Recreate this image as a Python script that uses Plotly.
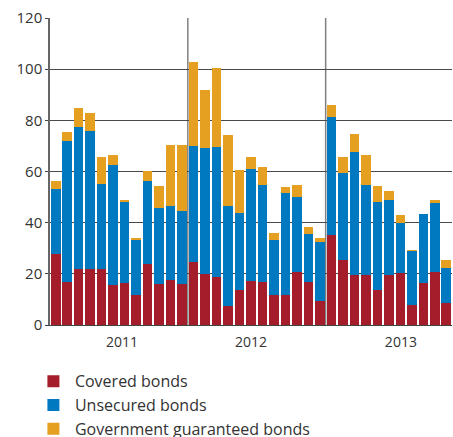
import plotly.graph_objects as go

months = list(range(35))  # Jan 2011 .. Nov 2013

covered = [27.8, 16.8, 21.9, 21.9, 21.9, 15.7, 16.4, 11.7, 23.9, 16.0, 17.6, 16.0,
           24.7, 20.0, 18.8, 7.4, 13.7, 17.2, 16.8, 11.7, 11.7, 20.7, 16.8, 9.4,
           35.2, 25.4, 19.6, 19.6, 13.7, 19.6, 20.3, 7.8, 16.4, 20.7, 8.6]
unsecured_top = [53.2, 72.0, 77.5, 75.9, 55.2, 62.6, 48.1, 33.3, 56.3, 45.8, 46.6, 44.6,
                 70.0, 69.3, 69.7, 46.6, 43.8, 61.0, 54.8, 33.3, 51.7, 50.1, 35.6, 32.5,
                 81.4, 59.5, 67.7, 54.8, 48.1, 48.9, 39.9, 29.0, 43.4, 47.7, 22.3]
total_top = [56.3, 75.5, 84.9, 83.0, 65.7, 66.5, 48.5, 33.7, 60.3, 54.4, 70.4, 70.4,
             102.9, 92.0, 100.6, 74.3, 60.7, 65.7, 61.8, 36.0, 54.0, 54.8, 38.3, 34.0,
             86.1, 65.7, 74.7, 66.5, 54.4, 52.4, 43.0, 29.3, 43.4, 48.9, 25.4]
unsecured = [round(u - c, 1) for u, c in zip(unsecured_top, covered)]
government = [round(t - u, 1) for t, u in zip(total_top, unsecured_top)]

year_labels = ["2011", "2012", "2013"]
year_label_pos = [5.77, 17.0, 30.05]
year_boundaries = [11.5, 23.5]

series_names = ["Covered bonds", "Unsecured bonds", "Government guaranteed bonds"]
colors = ["#A51D2A", "#0079C1", "#E5A021"]

FONT = "Open Sans"
TXT = "#333333"

fig = go.Figure()
for name, vals, col in zip(series_names, [covered, unsecured, government], colors):
    fig.add_trace(go.Bar(x=months, y=vals, name=name, marker_color=col,
                         marker_line_width=0, legendgroup=name))

for b in year_boundaries:
    fig.add_shape(type="line", x0=b, x1=b, y0=0, y1=120, xref="x", yref="y",
                  line=dict(color="#808080", width=1.5), layer="below")

fig.update_layout(
    width=453, height=437,
    barmode="stack", bargap=0.17,
    margin=dict(l=50, r=1, t=18, b=112, autoexpand=False),
    plot_bgcolor="white", paper_bgcolor="white",
    font=dict(family=FONT, size=14, color=TXT),
    showlegend=True,
    legend=dict(orientation="v", traceorder="grouped", tracegroupgap=0,
                itemwidth=33,
                x=-0.045, xanchor="left",
                y=-0.128, yanchor="top",
                font=dict(size=16, color=TXT, family=FONT),
                bgcolor="rgba(0,0,0,0)"),
    xaxis=dict(range=[-0.5, 34.5], tickvals=year_label_pos, ticktext=year_labels,
               showgrid=False, zeroline=False, showline=True, linecolor="#444444",
               linewidth=1, ticks="", tickfont=dict(size=14, color=TXT),
               ticklabelstandoff=4, fixedrange=True),
    yaxis=dict(range=[0, 120], tickvals=[0, 20, 40, 60, 80, 100, 120],
               showgrid=True, gridcolor="#4a4a4a", gridwidth=1.2,
               zeroline=False, showline=True, linecolor="#666666", linewidth=1.5,
               ticks="outside", ticklen=3, tickcolor="#444444",
               tickfont=dict(size=15, color=TXT), fixedrange=True),
)

# remove the default 8px page margin so the figure sits at the window's corner
fig.write_html("out.html", config={"displayModeBar": False},
               post_script="document.body.style.margin='0px';document.body.style.overflow='hidden';")
